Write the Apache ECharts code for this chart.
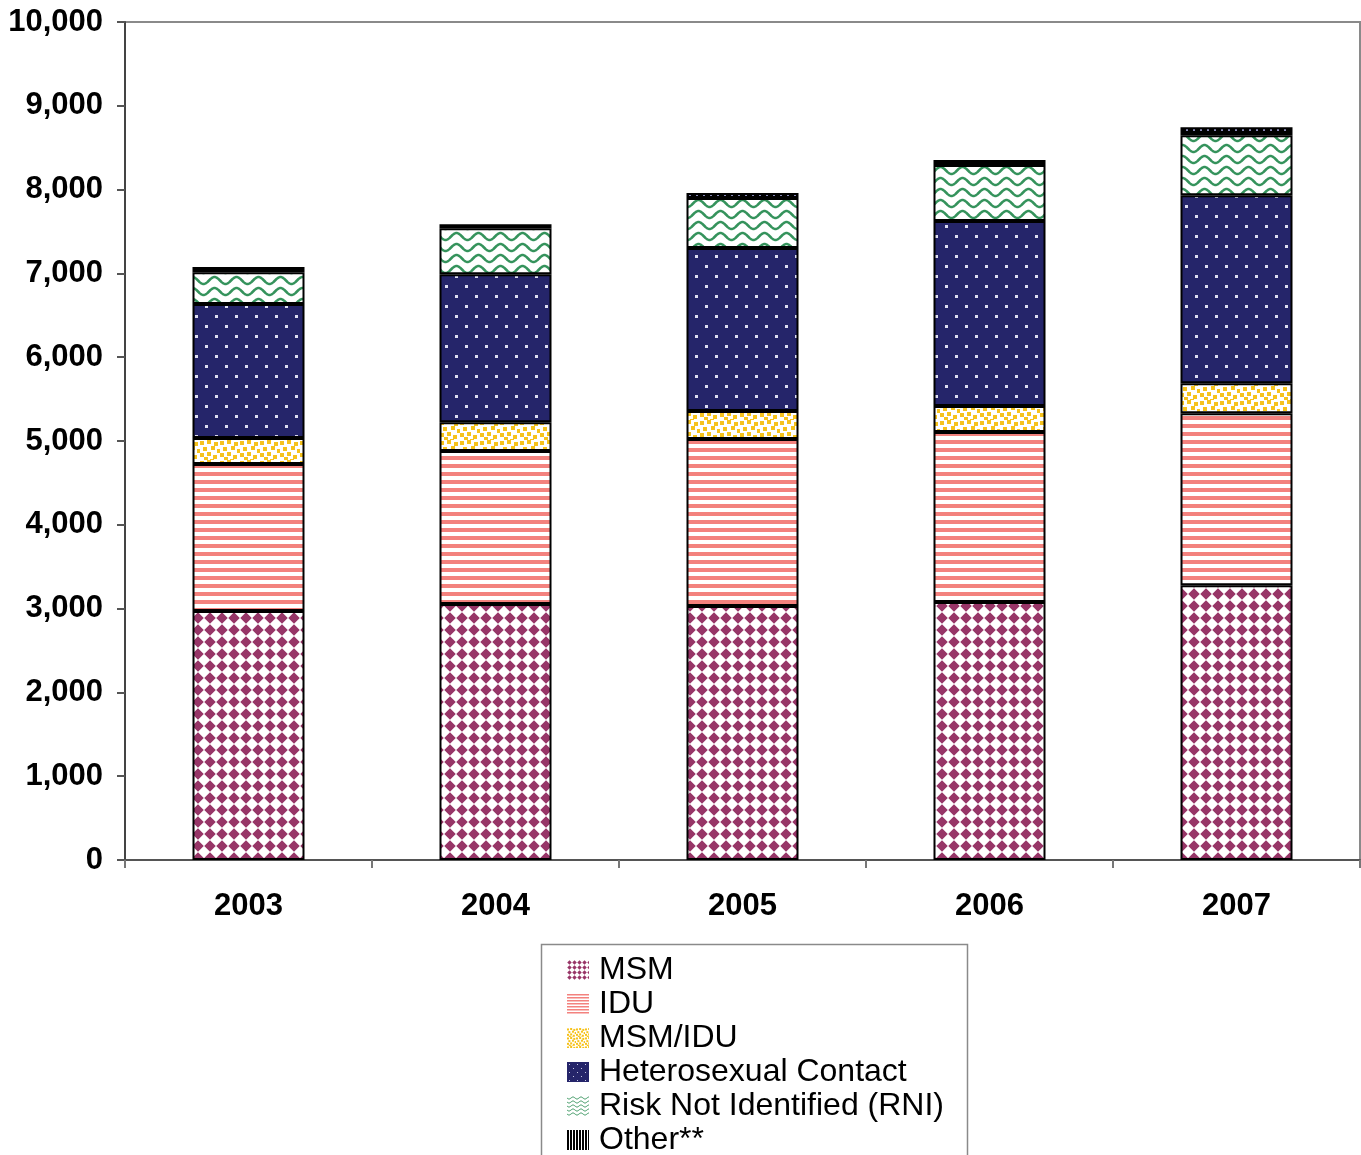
<!DOCTYPE html>
<html>
<head>
<meta charset="utf-8">
<script src="https://cdn.jsdelivr.net/npm/echarts@6/dist/echarts.min.js"></script>
<style>
  html, body { margin: 0; padding: 0; background: #fff; }
  #chart { width: 1361px; height: 1155px; }
</style>
</head>
<body>
<div id="chart"></div>
<script>
// ---- data ----
const categories = ['2003', '2004', '2005', '2006', '2007'];
const msm       = [2970, 3055, 3030, 3080, 3280];
const idu       = [1755, 1825, 1993, 2028, 2052];
const msmIdu    = [310, 345, 334, 311, 358];
const hetero    = [1600, 1765, 1945, 2207, 2244];
const rni       = [380, 550, 597, 669, 716];
const other     = [60, 47, 59, 59, 95];
const seriesNames = ['MSM', 'IDU', 'MSM/IDU', 'Heterosexual Contact', 'Risk Not Identified (RNI)', 'Other**'];
const yTicks = { min: 0, max: 10000, interval: 1000 };

// ---- pattern helpers (styles only) ----
function tile(w, h, draw) {
  const c = document.createElement('canvas');
  c.width = w; c.height = h;
  const g = c.getContext('2d');
  draw(g, w, h);
  return { image: c, repeat: 'repeat' };
}
function diamonds(size, col, k) {
  return tile(size, size, (g, w, h) => {
    g.fillStyle = '#fff'; g.fillRect(0, 0, w, h);
    g.fillStyle = col;
    const r = size * k;
    g.beginPath();
    g.moveTo(w / 2, h / 2 - r); g.lineTo(w / 2 + r, h / 2); g.lineTo(w / 2, h / 2 + r); g.lineTo(w / 2 - r, h / 2);
    g.closePath(); g.fill();
  });
}
function hstripes(period, col) {
  return tile(4, period, (g, w, h) => {
    g.fillStyle = '#fff'; g.fillRect(0, 0, w, h);
    g.fillStyle = col; g.fillRect(0, 0, w, period / 2);
  });
}
function confetti(sz, col, s) {
  return tile(sz, sz, (g, w, h) => {
    g.fillStyle = '#fff'; g.fillRect(0, 0, w, h);
    g.fillStyle = col;
    const pts = [[0,1],[7,0],[14,2],[3,7],[11,6],[17,9],[0,13],[7,12],[13,15],[4,17],[10,19]];
    pts.forEach(p => g.fillRect(p[0] * sz / 20, p[1] * sz / 20, s, s));
  });
}
function dots(sz, bg, col, d) {
  return tile(sz, sz, (g, w, h) => {
    g.fillStyle = bg; g.fillRect(0, 0, w, h);
    g.fillStyle = col;
    g.fillRect(Math.round(sz * 0.25), Math.round(sz * 0.25), d, d);
    g.fillRect(Math.round(sz * 0.75), Math.round(sz * 0.75), d, d);
  });
}
function waves(pw, ph, amp, col, lw) {
  return tile(pw, ph, (g, w, h) => {
    g.fillStyle = '#fff'; g.fillRect(0, 0, w, h);
    g.strokeStyle = col; g.lineWidth = lw;
    g.beginPath();
    for (let x = -1; x <= w + 1; x += 0.5) {
      const y = h / 2 + amp * Math.sin(2 * Math.PI * x / pw);
      if (x === -1) g.moveTo(x, y); else g.lineTo(x, y);
    }
    g.stroke();
  });
}
function blackDots() {
  return tile(7, 6, (g, w, h) => {
    g.fillStyle = '#000'; g.fillRect(0, 0, w, h);
    g.fillStyle = '#8a8ab8'; g.fillRect(3, 2, 2, 3);
  });
}
function vstripes() {
  return tile(3, 4, (g, w, h) => {
    g.fillStyle = '#fff'; g.fillRect(0, 0, w, h);
    g.fillStyle = '#000'; g.fillRect(0, 0, 2, h);
  });
}

const MAROON = '#973567', SALMON = '#F3827E', GOLD = '#F6C21C', NAVY = '#25256A', GREEN = '#35935C';
const barFills = [
  diamonds(12, MAROON, 0.48),
  hstripes(8, SALMON),
  confetti(20, GOLD, 4),
  dots(20, NAVY, '#dcdcf0', 3),
  waves(22, 11, 3.5, GREEN, 2.5),
  blackDots()
];
const legendFills = [
  diamonds(5, MAROON, 0.45),
  hstripes(3, SALMON),
  confetti(9, GOLD, 2),
  dots(8, NAVY, '#c8c8e4', 1),
  waves(8, 4, 1, GREEN, 1),
  vstripes()
];
const seriesData = [msm, idu, msmIdu, hetero, rni, other];

const chart = echarts.init(document.getElementById('chart'), null, { renderer: 'canvas' });
const FONT = '"Liberation Sans", Arial, sans-serif';

chart.setOption({
  animation: false,
  backgroundColor: '#fff',
  grid: {
    left: 125, top: 22, right: 1, bottom: 295,
    show: true, borderColor: '#8a8a8a', borderWidth: 2, backgroundColor: 'transparent'
  },
  graphic: [{
    type: 'rect', z: 0,
    shape: { x: 541.5, y: 944.5, width: 426, height: 260 },
    style: { fill: '#fff', stroke: '#8a8a8a', lineWidth: 1.5 }
  }],
  legend: {
    z: 10,
    orient: 'vertical',
    left: 567, top: 953,
    height: 240,
    padding: 0,
    itemWidth: 22, itemHeight: 20, itemGap: 0,
    icon: 'rect',
    selectedMode: false,
    itemStyle: { borderWidth: 0 },
    textStyle: { fontSize: 32, lineHeight: 34, fontFamily: FONT, color: '#000', padding: [0, 0, 0, 5] },
    data: seriesNames.map((n, i) => ({ name: n, itemStyle: { color: legendFills[i], borderWidth: 0 } }))
  },
  xAxis: {
    type: 'category',
    data: categories,
    boundaryGap: true,
    axisLine: { lineStyle: { color: '#555', width: 2 } },
    axisTick: { show: true, length: 8, alignWithLabel: false, lineStyle: { color: '#777', width: 2 } },
    axisLabel: { fontSize: 31, fontWeight: 'bold', fontFamily: FONT, color: '#000', margin: 31 },
    splitLine: { show: false }
  },
  yAxis: {
    type: 'value',
    min: yTicks.min, max: yTicks.max, interval: yTicks.interval,
    axisLine: { show: true, lineStyle: { color: '#444', width: 2 } },
    axisTick: { show: true, length: 8, lineStyle: { color: '#555', width: 2 } },
    axisLabel: {
      fontSize: 31, fontWeight: 'bold', fontFamily: FONT, color: '#000', margin: 22,
      formatter: v => v.toLocaleString('en-US')
    },
    splitLine: { show: false }
  },
  series: seriesNames.map((n, i) => ({
    name: n,
    type: 'bar',
    stack: 'total',
    barWidth: 112,
    data: seriesData[i],
    itemStyle: { color: barFills[i], borderColor: '#000', borderWidth: 2 },
    emphasis: { disabled: true }
  }))
});
</script>
</body>
</html>
